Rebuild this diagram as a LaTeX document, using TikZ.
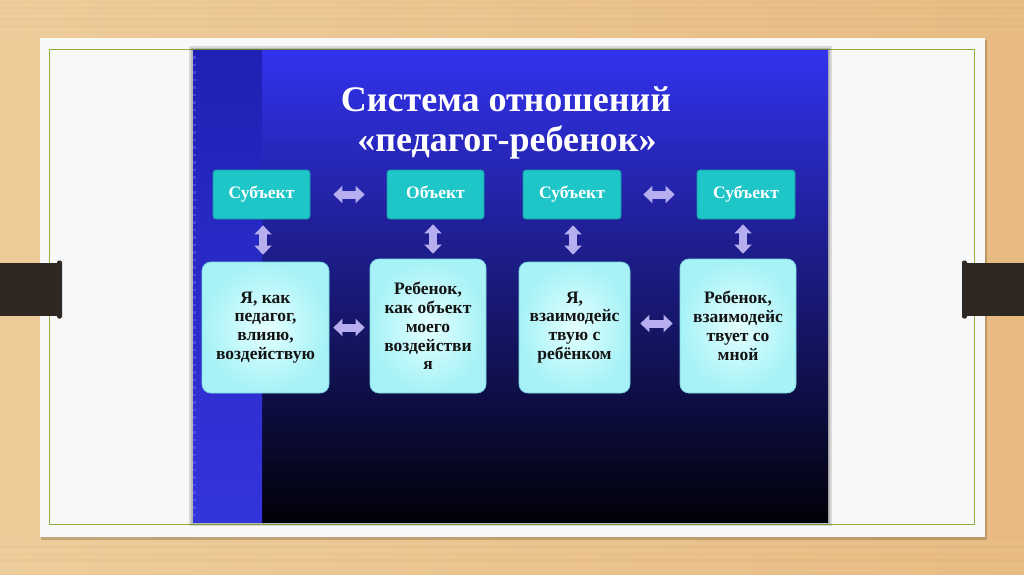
\documentclass[tikz,border=0pt]{standalone}
\usepackage{fontspec}
\setmainfont{Liberation Serif}
\usetikzlibrary{arrows.meta,calc}
\definecolor{woodL}{HTML}{EDCB98}
\definecolor{woodR}{HTML}{E7BA80}
\definecolor{card}{HTML}{F8F8F8}
\definecolor{frame}{HTML}{8FB040}
\definecolor{tab}{HTML}{2F2722}
\definecolor{slTop}{HTML}{3232EE}
\definecolor{slMid}{HTML}{1A1A80}
\definecolor{slBot}{HTML}{010108}
\definecolor{stTop}{HTML}{2020B4}
\definecolor{stMid}{HTML}{2626A8}
\definecolor{stBot}{HTML}{3434DC}
\definecolor{teal}{HTML}{1FC6C8}
\definecolor{tealD}{HTML}{169AA4}
\definecolor{paleIn}{HTML}{E4FFFF}
\definecolor{paleOut}{HTML}{A6F2F6}
\definecolor{paleD}{HTML}{7CD6DE}
\definecolor{lav}{HTML}{B6AEEE}
\definecolor{ink}{HTML}{141414}
\tikzset{
  topbox/.style={draw=tealD, line width=0.8pt, fill=teal, rounded corners=3pt,
    text=white, font=\fontsize{17.5}{20}\selectfont\bfseries, align=center, inner sep=0pt,
    text height=12pt, text depth=4pt},
  botbox/.style={draw=paleD, line width=0.8pt, rounded corners=9pt, inner color=paleIn, outer color=paleOut,
    text=ink, font=\fontsize{17.5}{18.8}\selectfont\bfseries, align=center, inner sep=0pt},
  dblarrow/.style={draw=lav, line width=8pt,
    {Triangle[width=17pt,length=9pt]}-{Triangle[width=17pt,length=9pt]}},
  titletext/.style={text=white, font=\fontsize{36}{41}\selectfont\bfseries, inner sep=0pt, anchor=base}
}
\begin{document}
\begin{tikzpicture}[x=1pt,y=-1pt]
\useasboundingbox (0,0) rectangle (1024,574);
% wood background
\fill[left color=woodL, right color=woodR] (0,0) rectangle (1024,574);
\foreach \yy/\op in {4/0.06,9/0.04,15/0.07,22/0.05,28/0.06,33/0.04,542/0.05,549/0.07,556/0.04,563/0.06,569/0.05}{
  \fill[white, opacity=\op] (0,\yy) rectangle (1024,\yy+2.5);
}
\foreach \yy/\op in {7/0.04,18/0.05,25/0.04,546/0.04,559/0.05}{
  \fill[brown, opacity=\op] (0,\yy) rectangle (1024,\yy+1.5);
}
% card with shadow
\fill[black, opacity=0.18] (41,40) rectangle (987,540);
\fill[card] (40,38) rectangle (985,537);
\draw[frame, line width=1pt] (49,49) rectangle (974,524);
% slide shadow
\fill[black, opacity=0.12] (189,46) rectangle (832,526);
\fill[black, opacity=0.15] (191,48) rectangle (830,524);
% slide
\shade[top color=slTop, middle color=slMid, bottom color=slBot] (262,50) rectangle (828,522);
\shade[top color=stTop, middle color=stMid, bottom color=stBot] (193,50) rectangle (262,522);
\draw[color={rgb,255:red,90;green,90;blue,255}, line width=3pt, dash pattern=on 2.5pt off 5pt, opacity=0.6] (194.5,56) -- (194.5,520);
% tabs
\fill[tab] (0,263) rectangle (58,316);
\fill[tab, rounded corners=2pt] (57,260.5) rectangle (62,318.5);
\fill[tab] (966,263) rectangle (1024,316);
\fill[tab, rounded corners=2pt] (962,260.5) rectangle (967,318.5);
% title
\node[titletext] (t1) at (506,111) {Система отношений};
\node[titletext] (t2) at (507,151) {«педагог-ребенок»};
% top boxes
\node[topbox, minimum width=97pt, minimum height=49pt] (s1) at (261.5,194.5) {Субъект};
\node[topbox, minimum width=97pt, minimum height=49pt] (o1) at (435.5,194.5) {Объект};
\node[topbox, minimum width=98pt, minimum height=49pt] (s2) at (572,194.5) {Субъект};
\node[topbox, minimum width=98pt, minimum height=49pt] (s3) at (746,194.5) {Субъект};
% bottom boxes
\node[botbox, minimum width=127pt, minimum height=131pt] (b1) at (265.5,327.5) {Я, как\\педагог,\\влияю,\\воздействую};
\node[botbox, minimum width=116pt, minimum height=134pt] (b2) at (428,326) {Ребенок,\\как объект\\моего\\воздействи\\я};
\node[botbox, minimum width=111pt, minimum height=131pt] (b3) at (574.5,327.5) {Я,\\взаимодейс\\твую с\\ребёнком};
\node[botbox, minimum width=116pt, minimum height=134pt] (b4) at (738,326) {Ребенок,\\взаимодейс\\твует со\\мной};
% horizontal arrows
\draw[dblarrow, shorten <=23pt, shorten >=22pt] (s1.east) -- (o1.west);
\draw[dblarrow, shorten <=22pt, shorten >=22pt] (s2.east) -- (s3.west);
\draw[dblarrow, shorten <=4pt, shorten >=5pt] (b1.east) -- (b1.east -| b2.west);
\draw[dblarrow, shorten <=10pt, shorten >=7pt] ([yshift=4pt]b3.east) -- ([yshift=4pt]b3.east -| b4.west);
% vertical arrows
\draw[dblarrow, shorten <=6pt, shorten >=7pt] ([xshift=1.5pt]s1.south) -- ([xshift=1.5pt]s1.south |- b1.north);
\draw[dblarrow, shorten <=5pt, shorten >=5pt] ([xshift=-2.5pt]o1.south) -- ([xshift=-2.5pt]o1.south |- b2.north);
\draw[dblarrow, shorten <=6pt, shorten >=7pt] ([xshift=1pt]s2.south) -- ([xshift=1pt]s2.south |- b3.north);
\draw[dblarrow, shorten <=5pt, shorten >=5pt] ([xshift=-3pt]s3.south) -- ([xshift=-3pt]s3.south |- b4.north);
\end{tikzpicture}
\end{document}
